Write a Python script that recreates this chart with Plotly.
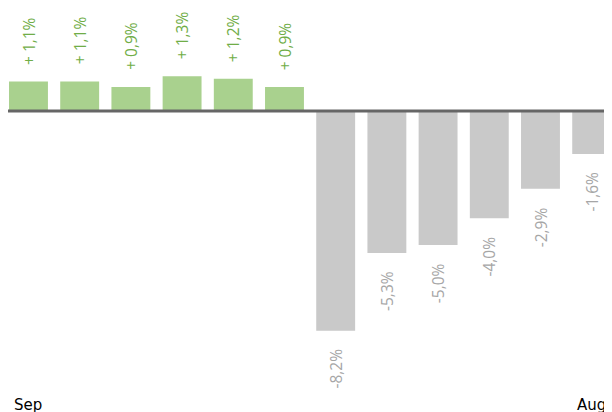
import plotly.graph_objects as go

months = ["Sep", "Oct", "Nov", "Dec", "Jan", "Feb", "Mar", "Apr", "May", "Jun", "Jul", "Aug"]
values = [1.1, 1.1, 0.9, 1.3, 1.2, 0.9, -8.2, -5.3, -5.0, -4.0, -2.9, -1.6]
tick_labels = ["Sep", "Aug"]
tick_positions = [0, 11]

pos_bar = "#a9d18e"
neg_bar = "#c9c9c9"
pos_txt = "#70ad47"
neg_txt = "#a6a6a6"

def fmt(v):
    s = f"{abs(v):.1f}".replace(".", ",") + "%"
    return ("+ " + s) if v >= 0 else ("-" + s)

fig = go.Figure()
fig.add_trace(go.Bar(
    x=list(range(len(values))), y=values,
    marker=dict(color=[pos_bar if v >= 0 else neg_bar for v in values], line=dict(width=0)),
    hoverinfo="skip",
))

for i, v in enumerate(values):
    fig.add_annotation(
        x=i, y=v, xref="x", yref="y", text=fmt(v), showarrow=False, textangle=-90,
        yanchor="bottom" if v >= 0 else "top",
        yshift=15 if v >= 0 else -16,
        font=dict(family="Open Sans", size=15.5, color=pos_txt if v >= 0 else neg_txt),
    )

for xp, lab in zip(tick_positions, tick_labels):
    fig.add_annotation(
        x=xp, y=0, xref="x", yref="paper", text=lab, showarrow=False,
        yanchor="middle", yshift=-5,
        font=dict(family="DejaVu Sans", size=15, color="black"),
    )

fig.add_shape(type="line", xref="paper", yref="y", x0=0, x1=1, y0=0, y1=0,
              line=dict(color="#666666", width=3))

fig.update_layout(
    width=612, height=412,
    margin=dict(l=0, r=0, t=0, b=20),
    paper_bgcolor="white", plot_bgcolor="white",
    bargap=0.24, showlegend=False,
    xaxis=dict(range=[-0.4, 11.553], showticklabels=False,
               showgrid=False, zeroline=False, showline=False, ticks=""),
    yaxis=dict(range=[-10.78, 3.843], visible=False, showgrid=False, zeroline=False),
)

fig.write_html("out.html")
